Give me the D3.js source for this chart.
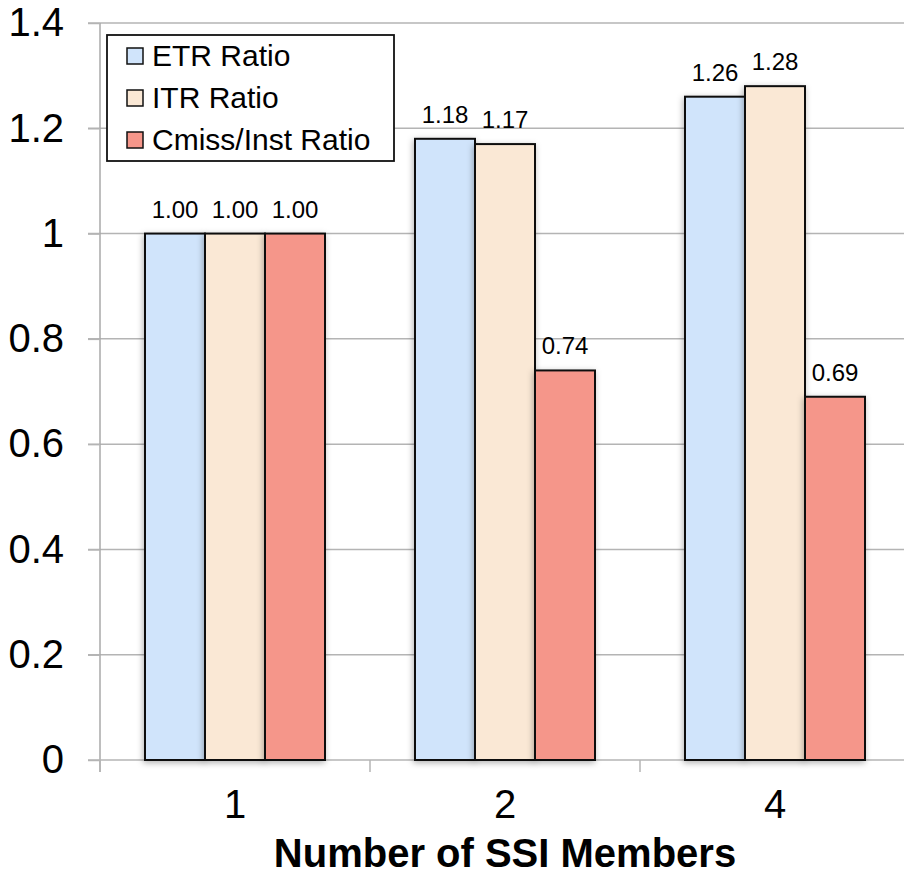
<!DOCTYPE html>
<html>
<head>
<meta charset="utf-8">
<script src="https://cdn.jsdelivr.net/npm/d3@7"></script>
<style>
  html, body { margin: 0; padding: 0; background: #fff; }
  svg { display: block; font-family: "Liberation Sans", Arial, sans-serif; }
</style>
</head>
<body>
<svg id="chart" width="904" height="877"></svg>
<script>
// Data
const categories = ["1", "2", "4"];
const seriesNames = ["ETR Ratio", "ITR Ratio", "Cmiss/Inst Ratio"];
const etrRatio = [1.00, 1.18, 1.26];
const itrRatio = [1.00, 1.17, 1.28];
const cmissRatio = [1.00, 0.74, 0.69];
const yTicks = [0, 0.2, 0.4, 0.6, 0.8, 1, 1.2, 1.4];
const seriesColors = ["#d0e4fb", "#fae8d5", "#f5968a"];

const series = [etrRatio, itrRatio, cmissRatio];

const svg = d3.select("#chart");
const width = 904;
const x0 = 100, x1 = 910, yBottom = 760, yTop = 23;

const x = d3.scaleBand().domain(categories).range([x0, x1])
  .paddingInner(1 / 3).paddingOuter(1 / 6);
const xs = d3.scaleBand().domain(seriesNames).range([0, x.bandwidth()]);
const y = d3.scaleLinear().domain([0, 1.4]).range([yBottom, yTop]);

// Soft shadow under the bars
const defs = svg.append("defs");
const f = defs.append("filter").attr("id", "shadow")
  .attr("x", "-30%").attr("y", "-10%").attr("width", "160%").attr("height", "120%");
f.append("feDropShadow").attr("dx", -1).attr("dy", 2).attr("stdDeviation", 3)
  .attr("flood-color", "#000").attr("flood-opacity", 0.3);

// Horizontal gridlines
svg.append("g").selectAll("line").data(yTicks.slice(1)).join("line")
  .attr("x1", 88).attr("x2", width)
  .attr("y1", d => y(d)).attr("y2", d => y(d))
  .attr("stroke", "#b4b4b4").attr("stroke-width", 1.5);

// Y axis
const yAxis = svg.append("g").attr("transform", `translate(${x0},0)`)
  .call(d3.axisLeft(y).tickValues(yTicks).tickSize(12).tickPadding(24)
    .tickFormat(d => d3.format("")(+d.toFixed(1))));
yAxis.select(".domain").attr("stroke", "#a8a8a8").attr("stroke-width", 1.5)
  .attr("d", `M0,${yTop}V${yBottom + 12}`);
yAxis.selectAll(".tick line").attr("stroke", "#b4b4b4").attr("stroke-width", 1.5);
yAxis.selectAll(".tick text").attr("font-size", 40).attr("fill", "#000")
  .attr("font-family", "Liberation Sans, Arial, sans-serif");

// X axis
const xAxis = svg.append("g").attr("transform", `translate(0,${yBottom})`)
  .call(d3.axisBottom(x).tickSize(0).tickPadding(30));
xAxis.select(".domain").attr("stroke", "#b4b4b4").attr("stroke-width", 1.5)
  .attr("d", `M88,0H${width}`);
xAxis.selectAll(".tick text").attr("font-size", 40).attr("fill", "#000")
  .attr("font-family", "Liberation Sans, Arial, sans-serif");
// Category separators
const step = x.step();
svg.append("g").selectAll("line").data(d3.range(categories.length + 1)).join("line")
  .attr("x1", i => x0 + i * step).attr("x2", i => x0 + i * step)
  .attr("y1", yBottom).attr("y2", yBottom + 12)
  .attr("stroke", "#b4b4b4").attr("stroke-width", 1.5);

// Bars
const groups = svg.append("g").selectAll("g").data(categories).join("g")
  .attr("transform", d => `translate(${x(d)},0)`);
groups.selectAll("rect")
  .data((c, ci) => seriesNames.map((s, si) => ({ s, si, v: series[si][ci] })))
  .join("rect")
  .attr("x", d => xs(d.s))
  .attr("width", xs.bandwidth())
  .attr("y", d => y(d.v))
  .attr("height", d => y(0) - y(d.v))
  .attr("fill", d => seriesColors[d.si])
  .attr("stroke", "#111").attr("stroke-width", 2)
  .attr("filter", "url(#shadow)");

// Value labels
groups.selectAll("text.val")
  .data((c, ci) => seriesNames.map((s, si) => ({ s, si, v: series[si][ci] })))
  .join("text").attr("class", "val")
  .attr("x", d => xs(d.s) + xs.bandwidth() / 2)
  .attr("y", d => y(d.v) - 16)
  .attr("text-anchor", "middle")
  .attr("font-size", 24).attr("fill", "#000")
  .text(d => d3.format(".2f")(d.v));

// Axis title
svg.append("text").attr("x", 505).attr("y", 867)
  .attr("text-anchor", "middle").attr("font-size", 40).attr("font-weight", "bold")
  .text("Number of SSI Members");

// Legend
const lg = svg.append("g").attr("transform", "translate(107,35)");
lg.append("rect").attr("width", 287).attr("height", 126)
  .attr("fill", "#fff").attr("stroke", "#111").attr("stroke-width", 1.8);
const items = lg.selectAll("g").data(seriesNames).join("g")
  .attr("transform", (d, i) => `translate(20,${21 + i * 42})`);
items.append("rect").attr("x", 0).attr("y", -8).attr("width", 16).attr("height", 16)
  .attr("fill", (d, i) => seriesColors[i]).attr("stroke", "#111").attr("stroke-width", 1.5);
items.append("text").attr("x", 25).attr("y", 10)
  .attr("font-size", 30).attr("fill", "#000")
  .text(d => d);
</script>
</body>
</html>
